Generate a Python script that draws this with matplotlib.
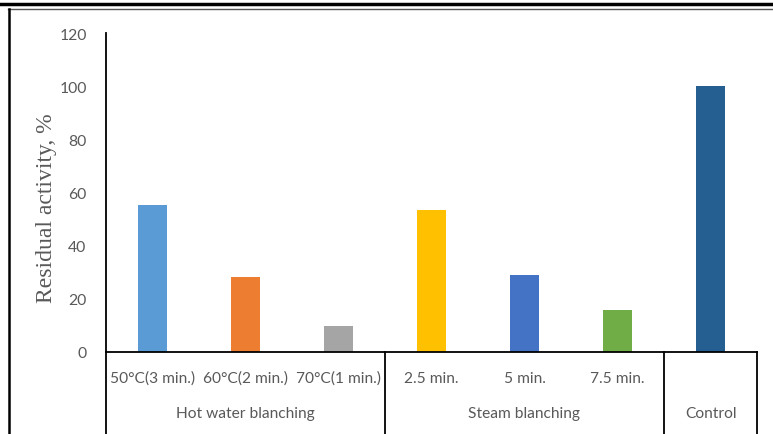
import matplotlib.pyplot as plt
from matplotlib.lines import Line2D

# Data
labels = ["50°C(3 min.)", "60°C(2 min.)", "70°C(1 min.)",
          "2.5 min.", "5 min.", "7.5 min.", ""]
values = [55.3, 28.2, 9.8, 53.4, 29.0, 15.8, 100.0]
colors = ["#5B9BD5", "#ED7D31", "#A5A5A5", "#FFC000", "#4472C4", "#70AD47", "#255E91"]
groups = ["Hot water blanching", "Steam blanching", "Control"]
group_sizes = [3, 3, 1]

W, H = 773, 435
fig = plt.figure(figsize=(W / 100, H / 100), dpi=100)
ax = fig.add_axes([106 / W, 82 / H, 651 / W, 319 / H])

x = list(range(len(values)))
ax.bar(x, values, width=0.31, color=colors)

ax.set_xlim(-0.5, len(values) - 0.5)
ax.set_ylim(0, 120)
ax.set_yticks(range(0, 121, 20))
ax.tick_params(axis="y", length=0, pad=14, labelsize=11.3, labelcolor="#595959")
ax.set_xticks([])
for lab in ax.get_yticklabels():
    lab.set_fontfamily("Lato")
for s in ["top", "right"]:
    ax.spines[s].set_visible(False)
for s in ["left", "bottom"]:
    ax.spines[s].set_color("black")
    ax.spines[s].set_linewidth(1.3)

# category labels and group separators below the axis
trans = ax.get_xaxis_transform()
for xi, lab in zip(x, labels):
    ax.text(xi, -26 / 319, lab, transform=trans, ha="center", va="center",
            fontsize=11.2, color="#595959", family="Lato")

start = 0
bounds = [-0.5]
for g, n in zip(groups, group_sizes):
    center = start + (n - 1) / 2
    ax.text(center, -61 / 319, g, transform=trans, ha="center", va="center",
            fontsize=11.2, color="#595959", family="Lato")
    start += n
    bounds.append(start - 0.5)
for b in bounds:
    ax.add_line(Line2D([b, b], [0, -90 / 319], transform=trans, color="black",
                       lw=1.3, clip_on=False))

fig.text(47 / W, 1 - 208 / H, "Residual activity, %", rotation=90, ha="center",
         va="center", fontsize=17, color="#595959", family="Liberation Serif")

# outer frame lines
fig.add_artist(Line2D([0, 1], [1 - 5 / H, 1 - 5 / H], color="black", lw=2.5))
fig.add_artist(Line2D([8 / W, 1], [1 - 10 / H, 1 - 10 / H], color="#555555", lw=1.0))
fig.add_artist(Line2D([9 / W, 9 / W], [0, 1 - 10 / H], color="black", lw=1.8))

fig.savefig("out.png", dpi=100)
plt.close(fig)
